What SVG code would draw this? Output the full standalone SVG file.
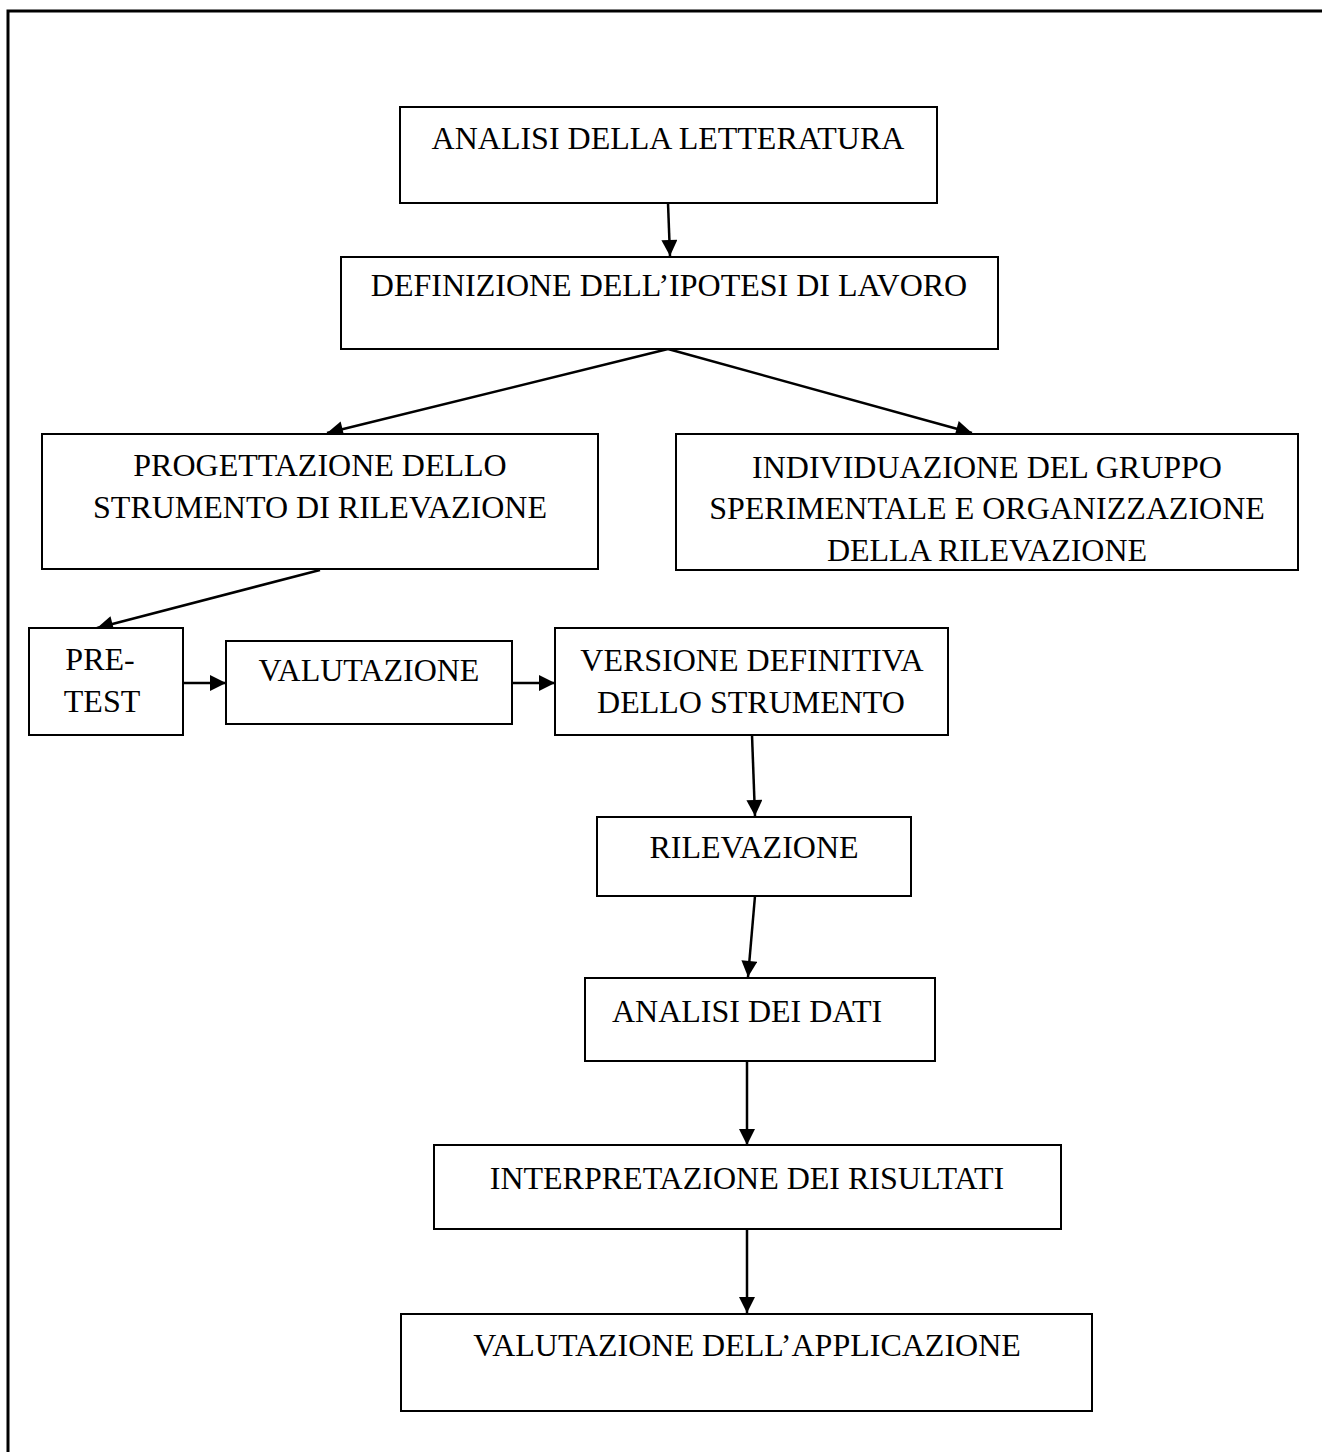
<svg xmlns="http://www.w3.org/2000/svg" width="1322" height="1452" viewBox="0 0 1322 1452">
<defs>
<style>
.box{fill:#fff;stroke:#000;stroke-width:2}
.t{font-family:"Liberation Serif","Times New Roman",serif;font-size:32px;fill:#000;text-anchor:middle}
.c{stroke:#000;stroke-width:2.5;fill:none;marker-end:url(#ah)}
</style>
<marker id="ah" viewBox="0 0 10 10" refX="10" refY="5" markerWidth="7" markerHeight="6.4" markerUnits="strokeWidth" orient="auto">
<path d="M0,0 L10,5 L0,10 z" fill="#000"/>
</marker>
</defs>
<rect width="1322" height="1452" fill="#fff"/>
<polyline points="8,1452 8,11 1322,11" fill="none" stroke="#000" stroke-width="3"/>

<g id="connectors">
<line class="c" x1="668" y1="203" x2="670" y2="256"/>
<line class="c" x1="668" y1="349" x2="327" y2="433"/>
<line class="c" x1="668" y1="349" x2="972" y2="433"/>
<line class="c" x1="320" y1="570" x2="97" y2="628"/>
<line class="c" x1="183" y1="683" x2="226" y2="683"/>
<line class="c" x1="512" y1="683" x2="555" y2="683"/>
<line class="c" x1="752" y1="735" x2="755" y2="816"/>
<line class="c" x1="755" y1="896" x2="748" y2="977"/>
<line class="c" x1="747" y1="1061" x2="747" y2="1145"/>
<line class="c" x1="747" y1="1229" x2="747" y2="1313"/>
</g>

<g id="n1"><rect class="box" x="400" y="107" width="537" height="96"/>
<text class="t" x="668" y="149">ANALISI DELLA LETTERATURA</text></g>

<g id="n2"><rect class="box" x="341" y="257" width="657" height="92"/>
<text class="t" x="669" y="296">DEFINIZIONE DELL’IPOTESI DI LAVORO</text></g>

<g id="n3"><rect class="box" x="42" y="434" width="556" height="135"/>
<text class="t" x="320" y="476">PROGETTAZIONE DELLO</text>
<text class="t" x="320" y="518">STRUMENTO DI RILEVAZIONE</text></g>

<g id="n4"><rect class="box" x="676" y="434" width="622" height="136"/>
<text class="t" x="987" y="478">INDIVIDUAZIONE DEL GRUPPO</text>
<text class="t" x="987" y="519">SPERIMENTALE E ORGANIZZAZIONE</text>
<text class="t" x="987" y="561">DELLA RILEVAZIONE</text></g>

<g id="n5"><rect class="box" x="29" y="628" width="154" height="107"/>
<text class="t" x="100" y="670">PRE-</text>
<text class="t" x="102" y="712">TEST</text></g>

<g id="n6"><rect class="box" x="226" y="641" width="286" height="83"/>
<text class="t" x="369" y="681">VALUTAZIONE</text></g>

<g id="n7"><rect class="box" x="555" y="628" width="393" height="107"/>
<text class="t" x="752" y="671">VERSIONE DEFINITIVA</text>
<text class="t" x="751" y="713">DELLO STRUMENTO</text></g>

<g id="n8"><rect class="box" x="597" y="817" width="314" height="79"/>
<text class="t" x="754" y="858">RILEVAZIONE</text></g>

<g id="n9"><rect class="box" x="585" y="978" width="350" height="83"/>
<text class="t" x="747" y="1022">ANALISI DEI DATI</text></g>

<g id="n10"><rect class="box" x="434" y="1145" width="627" height="84"/>
<text class="t" x="747" y="1189">INTERPRETAZIONE DEI RISULTATI</text></g>

<g id="n11"><rect class="box" x="401" y="1314" width="691" height="97"/>
<text class="t" x="747" y="1356">VALUTAZIONE DELL’APPLICAZIONE</text></g>
</svg>
